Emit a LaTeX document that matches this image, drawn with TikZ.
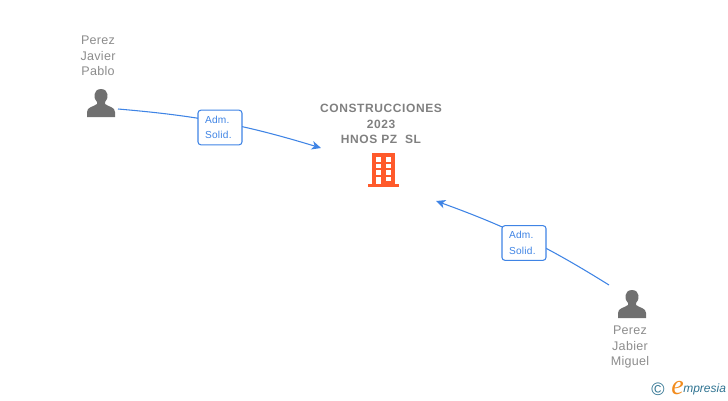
\documentclass[tikz,border=0pt]{standalone}
\usepackage{fontspec}
\setmainfont{Liberation Sans}
\newfontfamily\tagfont[LetterSpace=2.5]{Liberation Sans}
\newfontfamily\titlefont[LetterSpace=5]{Liberation Sans Bold}
\newfontfamily\logofont{Liberation Serif Italic}
\newfontfamily\logosans{Liberation Sans Italic}
\usetikzlibrary{arrows.meta,positioning}
\definecolor{linkblue}{HTML}{3F84E5}
\definecolor{nametext}{HTML}{8C8C8C}
\definecolor{titletext}{HTML}{808080}
\definecolor{icongrey}{HTML}{707070}
\definecolor{buildorange}{HTML}{FF5A2B}
\definecolor{logoteal}{HTML}{2F7391}
\definecolor{logoorange}{HTML}{F28C1E}
\tikzset{
  nametag/.style={text=nametext,align=center,font=\tagfont\fontsize{9.4}{11.5}\selectfont,inner sep=0pt},
  companytag/.style={text=titletext,align=center,font=\titlefont\fontsize{9}{11.5}\selectfont,inner sep=0pt},
  rolebox/.style={draw=linkblue,line width=0.8pt,fill=white,rounded corners=2.2pt,text=linkblue,align=left,
    font=\tagfont\fontsize{7.6}{11.5}\selectfont,minimum width=33pt,minimum height=26pt,inner sep=0pt,text width=22.5pt},
  linkarc/.style={draw=linkblue,line width=0.8pt,-{Stealth[length=7pt,width=6.5pt,inset=2pt]}},
  personicon/.pic={
    \fill[icongrey] (-14,14) -- (-14,9) .. controls (-14,4) and (-8,4) .. (-4,1) -- (-4,-1)
      .. controls (-8,-4) and (-8,-14) .. (0,-14) .. controls (8,-14) and (8,-4) .. (4,-1) -- (4,1)
      .. controls (8,4) and (14,4) .. (14,9) -- (14,14) -- cycle;
  }
}
\begin{document}
\begin{tikzpicture}[x=0.75pt,y=-0.75pt]
\useasboundingbox (0,0) rectangle (728,400);
\node[nametag] (javier) at (98,56) {Perez\\Javier\\Pablo};
\node[nametag] (jabier) at (630,347) {Perez\\Jabier\\Miguel};
\node[companytag] (company) at (381,124) {CONSTRUCCIONES\\2023\\HNOS PZ\ \ SL};
\pic at (101,103) {personicon};
\pic at (632,304) {personicon};
\fill[buildorange] (372,153) rectangle (395,184);
\fill[buildorange] (367.5,184) rectangle (399,187);
\foreach \col in {376,386}
  \foreach \row in {157,163.5,170}
    \fill[white] (\col,\row) rectangle ++(5,4.5);
\fill[white] (376,177) rectangle (381,184);
\fill[white] (386,177) rectangle (391,181);
\coordinate (javierout) at (118,109);
\coordinate (companyleft) at (321,148);
\coordinate (jabierout) at (609,285);
\coordinate (companyright) at (436,201);
\draw[linkarc] (javierout) to[bend left=6] (companyleft);
\draw[linkarc] (jabierout) to[bend right=6] (companyright);
\node[rolebox] (rolea) at (220,127.5) {Adm.\\Solid.};
\node[rolebox] (roleb) at (524,243) {Adm.\\Solid.};
\node[text=logoteal,inner sep=0pt,font=\fontsize{13.5}{13.5}\selectfont] (copyr) at (658,389) {©};
\node[text=logoorange,inner sep=0pt,font=\logofont\fontsize{21}{21}\selectfont] (logoe) at (677.5,388) {e};
\node[text=logoteal,inner sep=0pt,anchor=west,font=\logosans\fontsize{9}{9}\selectfont] (logotext) at (683,389) {mpresia};
\end{tikzpicture}
\end{document}
